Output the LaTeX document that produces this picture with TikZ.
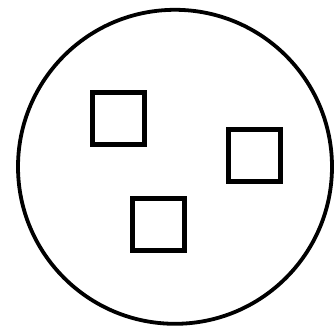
\documentclass[tikz,border=0pt]{standalone}
\usetikzlibrary{positioning}

\tikzset{
  dish/.style={draw, circle, line width=3.8pt, minimum size=314pt, inner sep=0pt},
  cell/.style={draw, rectangle, line width=5pt, minimum size=52pt, inner sep=0pt}
}

\begin{document}
\begin{tikzpicture}[x=1pt, y=-1pt]
\useasboundingbox (0,0) rectangle (334,327);

\node[dish] (D) at (175,166.8) {};

\node[cell] (A) at (118.5,118) {};
\node[cell] (B) at (254.5,155) {};
\node[cell] (C) at (158.5,224) {};
\end{tikzpicture}
\end{document}
